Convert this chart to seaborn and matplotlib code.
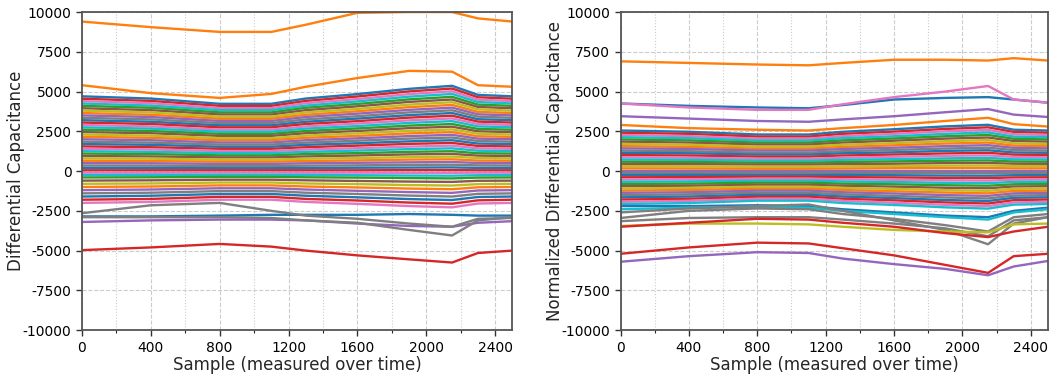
import numpy as np
import pandas as pd
import matplotlib
matplotlib.use("Agg")
import matplotlib.pyplot as plt
import seaborn as sns
from matplotlib.ticker import MultipleLocator

samples = [0, 400, 800, 1100, 1300, 1600, 1900, 2150, 2300, 2500]

# ---- left panel: raw differential capacitance ----
left_band = [
    [4700, 4560, 4230, 4230, 4560, 4840, 5170, 5360, 4790, 4700],
    [4550, 4410, 4100, 4100, 4410, 4690, 5010, 5190, 4640, 4550],
    [4400, 4270, 3960, 3960, 4270, 4530, 4840, 5020, 4490, 4400],
    [4250, 4120, 3830, 3830, 4120, 4380, 4680, 4850, 4340, 4250],
    [4100, 3980, 3690, 3690, 3980, 4220, 4510, 4670, 4180, 4100],
    [3950, 3830, 3560, 3560, 3830, 4070, 4350, 4500, 4030, 3950],
    [3800, 3690, 3420, 3420, 3690, 3910, 4180, 4330, 3880, 3800],
    [3650, 3540, 3290, 3290, 3540, 3760, 4020, 4160, 3720, 3650],
    [3500, 3400, 3150, 3150, 3400, 3610, 3850, 3990, 3570, 3500],
    [3350, 3250, 3020, 3020, 3250, 3450, 3690, 3820, 3420, 3350],
    [3200, 3100, 2880, 2880, 3100, 3300, 3520, 3650, 3260, 3200],
    [3050, 2960, 2750, 2750, 2960, 3140, 3360, 3480, 3110, 3050],
    [2900, 2810, 2610, 2610, 2810, 2990, 3190, 3310, 2960, 2900],
    [2750, 2670, 2480, 2480, 2670, 2830, 3030, 3140, 2810, 2750],
    [2600, 2520, 2340, 2340, 2520, 2680, 2860, 2960, 2650, 2600],
    [2450, 2380, 2210, 2210, 2380, 2520, 2700, 2790, 2500, 2450],
    [2300, 2230, 2070, 2070, 2230, 2370, 2530, 2620, 2350, 2300],
    [2150, 2090, 1940, 1940, 2090, 2210, 2370, 2450, 2190, 2150],
    [2000, 1940, 1800, 1800, 1940, 2060, 2200, 2280, 2040, 2000],
    [1850, 1790, 1670, 1670, 1790, 1910, 2040, 2110, 1890, 1850],
    [1700, 1650, 1530, 1530, 1650, 1750, 1870, 1940, 1730, 1700],
    [1550, 1500, 1400, 1400, 1500, 1600, 1710, 1770, 1580, 1550],
    [1400, 1360, 1260, 1260, 1360, 1440, 1540, 1600, 1430, 1400],
    [1250, 1210, 1130, 1130, 1210, 1290, 1380, 1430, 1280, 1250],
    [1100, 1070, 990, 990, 1070, 1130, 1210, 1250, 1120, 1100],
    [950, 920, 860, 860, 920, 980, 1050, 1080, 970, 950],
    [800, 780, 720, 720, 780, 820, 880, 910, 820, 800],
    [650, 630, 590, 590, 630, 670, 720, 740, 660, 650],
    [500, 490, 450, 450, 490, 520, 550, 570, 510, 500],
    [350, 340, 320, 320, 340, 360, 390, 400, 360, 350],
    [200, 190, 180, 180, 190, 210, 220, 230, 200, 200],
    [50, 50, 50, 50, 50, 50, 60, 60, 50, 50],
    [-100, -100, -90, -90, -100, -100, -110, -110, -100, -100],
    [-250, -240, -230, -230, -240, -260, -280, -290, -260, -250],
    [-400, -390, -360, -360, -390, -410, -440, -460, -410, -400],
    [-600, -580, -540, -540, -580, -620, -660, -680, -610, -600],
    [-800, -780, -720, -720, -780, -820, -880, -910, -820, -800],
    [-1000, -970, -900, -900, -970, -1030, -1100, -1140, -1020, -1000],
    [-1200, -1160, -1080, -1080, -1160, -1240, -1320, -1370, -1220, -1200],
    [-1400, -1360, -1260, -1260, -1360, -1440, -1540, -1600, -1430, -1400],
    [-1600, -1550, -1440, -1440, -1550, -1650, -1760, -1820, -1630, -1600],
    [-1800, -1750, -1620, -1620, -1750, -1850, -1980, -2050, -1840, -1800],
    [-2000, -1940, -1800, -1800, -1940, -2060, -2200, -2280, -2040, -2000],
]
left_orange_top = [9400, 9050, 8750, 8750, 9200, 9950, 10000, 10000, 9600, 9400]
left_orange_2 = [5400, 4900, 4600, 4850, 5300, 5850, 6300, 6250, 5400, 5300]
left_gray_a = [-2650, -2150, -2000, -2500, -2800, -3000, -3300, -3500, -3000, -2950]
left_gray_b = [-2900, -2900, -2900, -2950, -3100, -3250, -3700, -4050, -3100, -2900]
left_blue = [-2850, -2850, -2800, -2750, -2750, -2750, -2700, -2750, -2800, -2800]
left_purple = [-3200, -3100, -3050, -3050, -3100, -3300, -3450, -3500, -3250, -3150]
left_red = [-4970, -4800, -4580, -4750, -5000, -5300, -5550, -5750, -5150, -5000]

# ---- right panel: normalized differential capacitance ----
right_band = [
    [2550, 2470, 2300, 2300, 2470, 2630, 2810, 2910, 2600, 2550],
    [2410, 2340, 2170, 2170, 2340, 2480, 2650, 2750, 2460, 2410],
    [2270, 2200, 2040, 2040, 2200, 2340, 2500, 2590, 2320, 2270],
    [2130, 2070, 1920, 1920, 2070, 2190, 2340, 2430, 2170, 2130],
    [1990, 1930, 1790, 1790, 1930, 2050, 2190, 2270, 2030, 1990],
    [1850, 1790, 1670, 1670, 1790, 1910, 2040, 2110, 1890, 1850],
    [1710, 1660, 1540, 1540, 1660, 1760, 1880, 1950, 1740, 1710],
    [1570, 1520, 1410, 1410, 1520, 1620, 1730, 1790, 1600, 1570],
    [1430, 1390, 1290, 1290, 1390, 1470, 1570, 1630, 1460, 1430],
    [1290, 1250, 1160, 1160, 1250, 1330, 1420, 1470, 1320, 1290],
    [1150, 1120, 1040, 1040, 1120, 1180, 1270, 1310, 1170, 1150],
    [1010, 980, 910, 910, 980, 1040, 1110, 1150, 1030, 1010],
    [870, 840, 780, 780, 840, 900, 960, 990, 890, 870],
    [730, 710, 660, 660, 710, 750, 800, 830, 740, 730],
    [590, 570, 530, 530, 570, 610, 650, 670, 600, 590],
    [450, 440, 410, 410, 440, 460, 500, 510, 460, 450],
    [310, 300, 280, 280, 300, 320, 340, 350, 320, 310],
    [170, 160, 150, 150, 160, 180, 190, 190, 170, 170],
    [30, 30, 30, 30, 30, 30, 30, 30, 30, 30],
    [-110, -110, -100, -100, -110, -110, -120, -130, -110, -110],
    [-250, -240, -230, -230, -240, -260, -280, -290, -260, -250],
    [-390, -380, -350, -350, -380, -400, -430, -440, -400, -390],
    [-530, -510, -480, -480, -510, -550, -580, -600, -540, -530],
    [-670, -650, -600, -600, -650, -690, -740, -760, -680, -670],
    [-810, -790, -730, -730, -790, -830, -890, -920, -830, -810],
    [-950, -920, -860, -860, -920, -980, -1050, -1080, -970, -950],
    [-1090, -1060, -980, -980, -1060, -1120, -1200, -1240, -1110, -1090],
    [-1230, -1190, -1110, -1110, -1190, -1270, -1350, -1400, -1250, -1230],
    [-1370, -1330, -1230, -1230, -1330, -1410, -1510, -1560, -1400, -1370],
    [-1510, -1460, -1360, -1360, -1460, -1560, -1660, -1720, -1540, -1510],
    [-1650, -1600, -1490, -1490, -1600, -1700, -1820, -1880, -1680, -1650],
    [-1790, -1740, -1610, -1610, -1740, -1840, -1970, -2040, -1830, -1790],
    [-1930, -1870, -1740, -1740, -1870, -1990, -2120, -2200, -1970, -1930],
    [-2070, -2010, -1860, -1860, -2010, -2130, -2280, -2360, -2110, -2070],
]
right_orange_top = [6900, 6800, 6700, 6650, 6800, 7000, 7000, 6950, 7100, 6950]
right_blue = [4250, 4100, 4000, 3950, 4150, 4500, 4600, 4650, 4500, 4300]
right_pink = [4250, 4000, 3850, 3850, 4200, 4650, 5000, 5350, 4500, 4300]
right_purple = [3450, 3300, 3150, 3100, 3250, 3450, 3700, 3900, 3550, 3400]
right_orange_2 = [2900, 2700, 2600, 2550, 2700, 2900, 3150, 3350, 2950, 2800]
right_blue_2 = [-2200, -2200, -2150, -2200, -2400, -2600, -2800, -2900, -2500, -2300]
right_cyan = [-2400, -2300, -2250, -2300, -2500, -2700, -2900, -3050, -2600, -2400]
right_gray_a = [-2600, -2350, -2200, -2100, -2500, -3100, -3700, -4600, -3300, -2900]
right_gray_b = [-2950, -2500, -2350, -2400, -2700, -3000, -3400, -3800, -2900, -2700]
right_gray_c = [-3150, -2950, -2900, -2900, -3050, -3300, -3600, -4100, -3100, -2900]
right_red = [-3500, -3250, -3000, -3050, -3250, -3500, -3900, -4150, -3800, -3500]
right_olive = [-3450, -3300, -3300, -3350, -3500, -3700, -3800, -3850, -3350, -3300]
right_red_2 = [-5200, -4800, -4500, -4550, -4850, -5300, -5900, -6400, -5350, -5200]
right_purple_2 = [-5700, -5350, -5100, -5150, -5500, -5850, -6150, -6550, -6000, -5650]

tab = sns.color_palette("tab10")


def build(band, extras):
    frames, pal = [], {}
    for i, row in enumerate(band):
        name = f"b{i}"
        frames.append(pd.DataFrame({"sample": samples, "value": row, "line": name}))
        pal[name] = tab[(i * 3) % 10]
    for name, (row, col) in extras.items():
        frames.append(pd.DataFrame({"sample": samples, "value": row, "line": name}))
        pal[name] = tab[col]
    return pd.concat(frames, ignore_index=True), pal


left_df, left_pal = build(left_band, {
    "orange_top": (left_orange_top, 1), "orange_2": (left_orange_2, 1),
    "blue": (left_blue, 0), "purple": (left_purple, 4),
    "gray_a": (left_gray_a, 7), "gray_b": (left_gray_b, 7), "red": (left_red, 3),
})
right_df, right_pal = build(right_band, {
    "orange_top": (right_orange_top, 1), "blue": (right_blue, 0),
    "pink": (right_pink, 6), "purple": (right_purple, 4),
    "orange_2": (right_orange_2, 1), "blue_2": (right_blue_2, 0),
    "cyan": (right_cyan, 9), "gray_a": (right_gray_a, 7),
    "gray_b": (right_gray_b, 7), "gray_c": (right_gray_c, 7),
    "olive": (right_olive, 8), "red": (right_red, 3),
    "red_2": (right_red_2, 3), "purple_2": (right_purple_2, 4),
})

sns.set_theme(style="white")
plt.rcParams["font.family"] = ["DejaVu Sans"]
plt.rcParams["axes.unicode_minus"] = False

fig = plt.figure(figsize=(10.5, 3.76), dpi=100)
ax1 = fig.add_axes([0.078, 0.122, 0.410, 0.846])
ax2 = fig.add_axes([0.591, 0.122, 0.407, 0.846])

for ax, df, pal, ylabel in [
    (ax1, left_df, left_pal, "Differential Capacitance"),
    (ax2, right_df, right_pal, "Normalized Differential Capacitance"),
]:
    sns.lineplot(data=df, x="sample", y="value", hue="line", palette=pal,
                 estimator=None, sort=False, legend=False, linewidth=1.7, ax=ax)
    ax.set_xlim(0, 2500)
    ax.set_ylim(-10000, 10000)
    ax.xaxis.set_major_locator(MultipleLocator(400))
    ax.xaxis.set_minor_locator(MultipleLocator(200))
    ax.yaxis.set_major_locator(MultipleLocator(2500))
    ax.grid(which="major", linestyle="--", color="#cccccc", linewidth=0.8)
    ax.grid(which="minor", axis="x", linestyle=":", color="#cccccc", linewidth=0.8)
    ax.set_axisbelow(True)
    ax.tick_params(which="major", direction="out", length=4, width=1, colors="#333333",
                   labelsize=10, bottom=True, left=True)
    ax.tick_params(which="minor", direction="out", length=2.5, width=0.8, bottom=True)
    for tl in ax.get_xticklabels() + ax.get_yticklabels():
        tl.set_color("black")
    for sp in ax.spines.values():
        sp.set_color("#555555")
        sp.set_linewidth(1.3)
    ax.set_xlabel("Sample (measured over time)", fontsize=12, labelpad=1)
    ax.set_ylabel(ylabel, fontsize=12)
    ax.yaxis.set_label_coords(-0.132, 0.5)

fig.savefig("out.png", dpi=100)
